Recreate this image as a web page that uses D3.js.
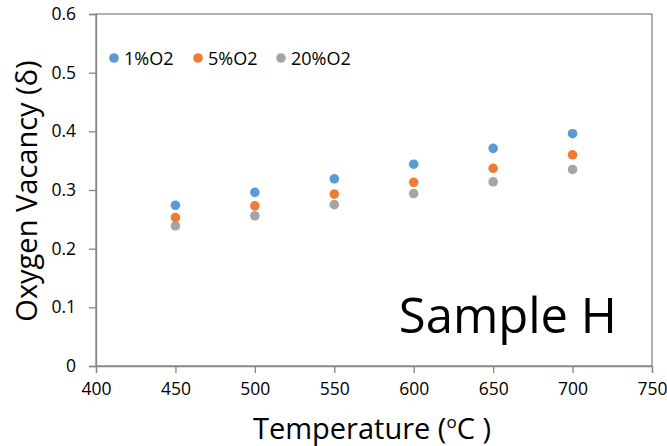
<!DOCTYPE html>
<html>
<head>
<meta charset="utf-8">
<script src="https://cdn.jsdelivr.net/npm/d3@7"></script>
<style>
  body { margin: 0; background: #fff; }
  text { font-family: "Open Sans", sans-serif; fill: #000; }
</style>
</head>
<body>
<svg id="chart" width="667" height="446"></svg>
<script>
// temperatures (degC)
const temps = [450, 500, 550, 600, 650, 700];
// oxygen vacancy for each O2 partial pressure
const o2_1 = [0.274, 0.296, 0.319, 0.344, 0.371, 0.396];
const o2_5 = [0.253, 0.273, 0.293, 0.313, 0.337, 0.360];
const o2_20 = [0.239, 0.256, 0.275, 0.294, 0.314, 0.335];
const seriesNames = ["1%O2", "5%O2", "20%O2"];
const colors = ["#5B9BD5", "#ED7D31", "#A5A5A5"];
const xTicks = [400, 450, 500, 550, 600, 650, 700, 750];
const yTicks = [0, 0.1, 0.2, 0.3, 0.4, 0.5, 0.6];

let svg = d3.select("#chart");
let margin = {left: 96, right: 15, top: 14, bottom: 80};
let width = +svg.attr("width");
let height = +svg.attr("height");

let x = d3.scaleLinear().domain([400, 750]).range([margin.left, width - margin.right]);
let y = d3.scaleLinear().domain([0, 0.6]).range([height - margin.bottom, margin.top]);

const axisColor = "#868686";

// plot frame
svg.append("rect")
    .attr("x", x(400)).attr("y", y(0.6))
    .attr("width", x(750) - x(400)).attr("height", y(0) - y(0.6))
    .attr("fill", "none").attr("stroke", axisColor).attr("stroke-width", 1.3);

let xAxis = svg.append("g")
    .attr("transform", `translate(0,${y(0)})`)
    .call(d3.axisBottom(x).tickValues(xTicks).tickSize(7).tickPadding(10).tickFormat(d3.format("d")));

let yAxis = svg.append("g")
    .attr("transform", `translate(${x(400)},0)`)
    .call(d3.axisLeft(y).tickValues(yTicks).tickSize(7).tickPadding(13).tickFormat(d => d === 0 ? "0" : d3.format(".1f")(d)));

[xAxis, yAxis].forEach(g => {
    g.attr("font-size", 17.5).attr("font-family", "Open Sans, sans-serif");
    g.selectAll("path.domain").attr("stroke", axisColor).attr("stroke-width", 1.3);
    g.selectAll(".tick line").attr("stroke", axisColor).attr("stroke-width", 1.3);
    g.selectAll(".tick text")
        .style("font-size", "17.5px")
        .attr("fill", "#000");
});

// points
const allSeries = [o2_1, o2_5, o2_20];
allSeries.slice().reverse().forEach((vals, ri) => {
    let i = allSeries.length - 1 - ri;
    svg.append("g").selectAll("circle")
        .data(vals)
        .enter()
        .append("circle")
        .attr("cx", (d, j) => x(temps[j]))
        .attr("cy", d => y(d))
        .attr("r", 4.8)
        .attr("fill", colors[i]);
});

// legend
const legendX = [114, 198, 281];
let legend = svg.append("g");
seriesNames.forEach((name, i) => {
    legend.append("circle")
        .attr("cx", legendX[i]).attr("cy", 58).attr("r", 4.8).attr("fill", colors[i]);
    legend.append("text")
        .attr("x", legendX[i] + 10).attr("y", 64.5)
        .style("font-size", "18px")
        .text(name);
});

// axis titles
svg.append("text")
    .attr("x", 372).attr("y", 439)
    .attr("text-anchor", "middle")
    .style("font-size", "29px")
    .html('Temperature (<tspan baseline-shift="super" style="font-size:17px">o</tspan>C )');

svg.append("text")
    .attr("transform", "translate(37,191) rotate(-90)")
    .attr("text-anchor", "middle")
    .style("font-size", "29px")
    .text("Oxygen Vacancy (δ)");

svg.append("text")
    .attr("x", 617).attr("y", 333)
    .attr("text-anchor", "end")
    .style("font-size", "49px")
    .text("Sample H");
</script>
</body>
</html>
